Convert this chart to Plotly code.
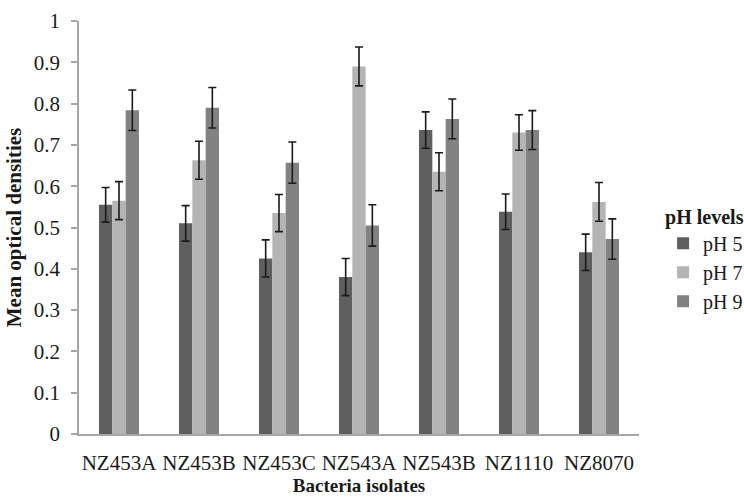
import plotly.graph_objects as go

isolates = ["NZ453A", "NZ453B", "NZ453C", "NZ543A", "NZ543B", "NZ1110", "NZ8070"]
ph5 = [0.555, 0.510, 0.425, 0.380, 0.736, 0.538, 0.440]
ph7 = [0.565, 0.663, 0.535, 0.890, 0.635, 0.730, 0.562]
ph9 = [0.784, 0.790, 0.657, 0.505, 0.763, 0.736, 0.472]
err5 = [0.042, 0.043, 0.045, 0.045, 0.044, 0.043, 0.044]
err7 = [0.046, 0.046, 0.045, 0.047, 0.046, 0.043, 0.047]
err9 = [0.049, 0.049, 0.050, 0.050, 0.048, 0.047, 0.049]

series = [("pH 5", ph5, err5, "#5f5f5f"),
          ("pH 7", ph7, err7, "#b4b4b4"),
          ("pH 9", ph9, err9, "#828282")]

FONT = "Liberation Serif, Times New Roman, serif"

fig = go.Figure()
for name, vals, errs, col in series:
    fig.add_trace(go.Bar(
        name=name, x=isolates, y=vals, marker_color=col,
        marker_line_width=0,
        error_y=dict(type="data", array=errs, visible=True,
                     color="#1a1a1a", thickness=1.6, width=4),
    ))

fig.update_layout(
    width=744, height=497,
    margin=dict(l=79, r=105, t=21, b=63, autoexpand=False),
    paper_bgcolor="white", plot_bgcolor="white",
    barmode="group", bargap=0.5, bargroupgap=0,
    font=dict(family=FONT, size=20, color="#1a1a1a"),
    showlegend=True,
    legend=dict(
        title=dict(text="<b>pH levels</b>", font=dict(size=20, family=FONT)),
        x=1.043, xanchor="left", y=0.423, yanchor="middle",
        font=dict(size=20, family=FONT),
        tracegroupgap=0, itemwidth=30,
        bgcolor="rgba(0,0,0,0)",
    ),
    xaxis=dict(
        showline=True, linecolor="#a6a6a6", linewidth=1.5,
        ticks="", showgrid=False, zeroline=False,
        tickfont=dict(size=21, family=FONT),
        ticklabelstandoff=9,
        title=dict(text="<b>Bacteria isolates</b>", font=dict(size=19, family=FONT), standoff=4),
        automargin=False,
    ),
    yaxis=dict(
        range=[0, 1], dtick=0.1,
        showline=True, linecolor="#a6a6a6", linewidth=1.5,
        ticks="outside", ticklen=6, tickcolor="#a6a6a6", tickwidth=1.5,
        showgrid=False, zeroline=False,
        tickfont=dict(size=21, family=FONT),
        ticklabelstandoff=7,
        title=dict(text="<b>Mean optical densities</b>", font=dict(size=21, family=FONT), standoff=6),
        automargin=False,
    ),
)

fig.write_html("out.html")
